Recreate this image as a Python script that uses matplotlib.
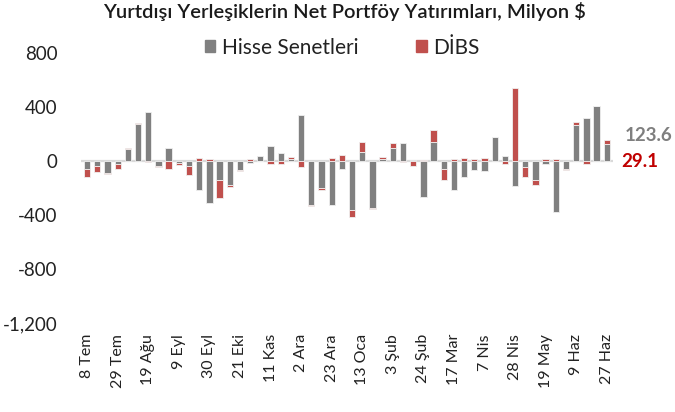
import numpy as np
import matplotlib
matplotlib.use('Agg')
import matplotlib.pyplot as plt
from matplotlib.patches import Patch

plt.rcParams['font.family'] = ['Lato', 'DejaVu Sans']

# haftalik veriler, milyon $
hisse = [-62, -37, -87, -25, 87, 273, 365, -37, 94, -15, -37, -211, -308,
         -139, -176, -65, -17, 37, 112, 57, 17, 345, -328, -199, -323, -55,
         -362, 67, -350, 17, 94, 134, 10, -268, 142, -55, -211, -119, -65,
         -74, 179, 37, -184, -45, -139, -25, -380, -55, 266, 318, 405, 123.6]
dibs = [-57, -45, -7, -30, 10, 10, -4, -8, -60, -15, -65, 22, 12, -132, -17,
        -10, 12, 0, -25, -25, 12, -45, -7, -15, 20, 47, -55, 75, -7, 10, 40,
        -5, -40, 10, 92, -82, 12, 20, 12, 20, 3, -25, 541, -75, -37, 12, 12,
        -12, 25, -25, 7, 29.1]
tarih = ['8 Tem', '29 Tem', '19 Ağu', '9 Eyl', '30 Eyl', '21 Eki', '11 Kas',
         '2 Ara', '23 Ara', '13 Oca', '3 Şub', '24 Şub', '17 Mar', '7 Nis',
         '28 Nis', '19 May', '9 Haz', '27 Haz']
yticks = [800, 400, 0, -400, -800, -1200]
ylabels = ['800', '400', '0', '-400', '-800', '-1,200']

gri = '#808080'
kirmizi = '#C0504D'

h = np.array(hisse, dtype=float)
d = np.array(dibs, dtype=float)
x = np.arange(len(h))
# excel tarzi yigma: ayni isaretliyse ustune, degilse sifirdan
alt = np.where(np.sign(d) == np.sign(h), h, 0)

fig = plt.figure(figsize=(6.75, 4.12), dpi=100)
ax = fig.add_axes([0.12, 0.216, 0.788, 0.655])

ax.axhline(0, color='#D9D9D9', lw=1.6, zorder=1)
ax.bar(x, h, width=0.62, color=gri, edgecolor='#f0f0f0', linewidth=0.6, zorder=2)
ax.bar(x, d, bottom=alt, width=0.62, color=kirmizi, edgecolor='#f0f0f0',
       linewidth=0.6, zorder=2)

ax.set_xlim(-0.6, len(h) - 0.4)
ax.set_ylim(-1200, 800)
ax.set_yticks(yticks)
ax.set_yticklabels(ylabels, fontsize=13.5, color='#222222')
ax.set_xticks(x[::3])
ax.set_xticklabels(tarih, rotation=90, fontsize=11.5, color='#222222')
ax.tick_params(length=0, pad=17)
ax.tick_params(axis='x', pad=8)
for s in ax.spines.values():
    s.set_visible(False)

fig.text(0.51, 0.972, 'Yurtdışı Yerleşiklerin Net Portföy Yatırımları, Milyon $',
         ha='center', va='center', fontsize=14.5, fontweight='semibold',
         color='#1a1a1a')

ax.legend([Patch(color=gri), Patch(color=kirmizi)], ['Hisse Senetleri', 'DİBS'],
          loc='center', bbox_to_anchor=(0.507, 0.884), bbox_transform=fig.transFigure,
          ncol=2, frameon=False, fontsize=15, handlelength=0.5, handleheight=0.5,
          handletextpad=0.3, columnspacing=2.8, labelcolor='#222222')

ax.text(1.022, h[-1], f'{h[-1]:.1f}', transform=ax.get_yaxis_transform(),
        color='#7F7F7F', fontsize=13.5, fontweight='bold', va='bottom', ha='left')
ax.text(1.015, 0, f'{d[-1]:.1f}', transform=ax.get_yaxis_transform(),
        color='#C00000', fontsize=13.5, fontweight='bold', va='center', ha='left')

fig.savefig('out.png', dpi=100)
